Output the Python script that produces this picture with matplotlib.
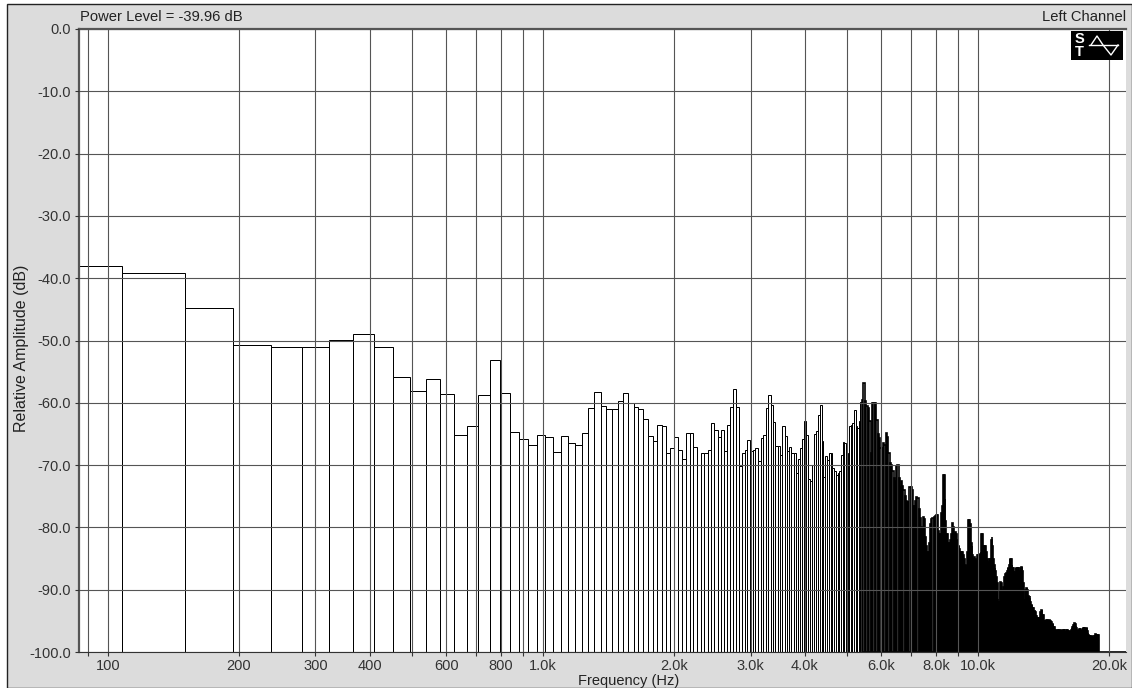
import numpy as np
import matplotlib
matplotlib.use('Agg')
import matplotlib.pyplot as plt
from matplotlib.patches import Rectangle

plt.rcParams['font.family'] = ['Liberation Sans', 'DejaVu Sans']

# fft bins, first one drawn is bin 2 (about 86 Hz)
bin_hz = 43.066
first_bin = 2

amp_low = [-38.0, -39.1, -44.8, -50.8, -51.0, -51.0, -49.9, -49.0, -51.0, -55.9,
           -58.05, -56.2, -58.6, -65.2, -63.7, -58.8, -53.2, -58.4, -64.7, -65.8,
           -66.7, -65.1, -65.5, -67.9, -65.3, -66.5, -66.7, -64.9, -60.8, -58.2,
           -60.5, -61.0, -61.0, -59.7, -58.5, -60.1, -60.6, -61.0, -62.6, -65.3,
           -66.1, -63.6, -63.7, -68.1, -67.3, -65.5, -67.5, -69.1, -64.8, -64.8,
           -67.1]
amp_mid = [-70.0, -68.1, -68.0, -67.5, -63.3, -64.4, -65.5, -64.4, -67.8, -63.6,
           -60.7, -57.8, -60.7, -70.1, -68.1, -67.5, -66.0, -67.8, -67.5, -67.3,
           -69.4, -65.7, -65.2, -60.9, -58.7, -60.4, -63.1, -66.9, -66.9, -68.4,
           -63.7, -65.3, -67.8, -67.1, -68.1, -68.0, -71.3, -69.1, -67.3, -65.8,
           -62.9, -65.2, -72.2, -72.6, -70.0, -65.0, -64.5, -62.0, -60.3, -66.2,
           -71.9, -68.5, -69.2, -68.1, -68.1, -70.5, -71.0, -71.6, -71.3, -71.0,
           -68.4, -66.3, -66.5, -68.5, -68.0, -63.7, -63.5, -63.3, -61.2, -63.8,
           -64.0, -63.0, -59.8, -59.5, -56.9, -59.7, -60.5, -60.8, -63.0, -68.0,
           -60.1, -60.1, -60.1, -62.8, -65.0, -65.7, -67.3, -67.3, -66.5, -66.8,
           -64.9, -65.5, -68.0, -69.7, -70.0, -71.0, -72.0, -72.5, -70.2, -70.0,
           -72.0, -73.5, -72.5, -73.3, -74.0, -75.0, -75.8, -75.9]
amp_high = [-76.0, -73.5, -73.5, -74.0, -76.5, -76.5, -75.8, -75.2, -75.3, -77.0,
            -78.5, -80.0, -80.2, -78.4, -78.6, -81.5, -83.0, -84.0, -84.0, -82.5,
            -79.5, -78.6, -78.5, -78.4, -78.2, -78.0, -78.0, -80.5, -81.0, -81.0,
            -77.7, -76.5, -71.6, -71.6, -75.5, -79.0, -81.0, -81.0, -82.5, -82.5,
            -82.0, -81.0, -79.3, -80.0, -81.0, -80.8, -81.0, -82.0, -83.0, -83.0,
            -83.5, -84.0, -84.0, -84.0, -84.5, -85.0, -86.0, -86.0, -86.5, -84.0,
            -78.8, -78.8, -79.5, -82.5, -83.0, -84.5, -85.0, -84.7, -85.0, -85.5,
            -85.0, -84.5, -84.5, -84.5, -84.3, -84.0, -81.0, -81.0, -83.0, -83.0,
            -83.0, -83.0, -84.0, -85.0, -85.5, -85.5, -85.0, -85.0, -82.0, -81.5,
            -83.0, -85.0, -86.0, -86.5, -87.0, -88.0, -89.0, -91.5, -92.0, -92.0,
            -90.0, -88.8, -88.9, -90.0, -90.0, -89.5, -88.0, -88.0, -87.5, -87.3,
            -87.0, -86.5, -86.5, -86.0, -85.0, -85.0, -85.0, -86.0, -86.5, -86.5,
            -87.0, -87.5, -87.2, -86.5, -86.5, -86.5, -86.3, -86.5, -87.0, -87.0,
            -86.5, -86.3, -86.3, -87.0, -89.0, -91.5, -92.0, -91.5, -90.0, -89.8,
            -89.8, -90.0, -91.0, -91.5, -91.5, -91.0, -92.0, -92.5, -92.5, -93.0,
            -93.0, -93.0, -93.5, -93.3, -93.5, -94.0, -94.3, -94.5, -94.5, -94.5,
            -94.8, -94.5, -93.5, -93.5, -93.3, -93.3, -94.0, -94.0, -94.8, -95.0,
            -95.0, -95.0, -94.8, -94.8, -94.8, -95.0, -95.0, -95.0, -94.9, -95.0]
amp_top = [-95.0, -95.0, -95.2, -95.5, -95.5, -96.0, -96.0, -96.0, -96.3, -96.4,
           -96.5, -96.6, -96.6, -96.5, -96.4, -96.4, -96.5, -96.6, -96.6, -96.5,
           -96.5, -96.6, -96.7, -96.5, -96.4, -96.3, -96.4, -96.6, -96.8, -96.7,
           -96.5, -96.4, -96.4, -96.5, -96.6, -96.7, -96.8, -96.7, -96.6, -96.7,
           -96.5, -96.2, -96.0, -95.8, -95.6, -95.5, -95.4, -95.4, -95.5, -95.8,
           -96.2, -96.5, -96.6, -96.6, -96.5, -96.4, -96.3, -96.2, -96.3, -96.4,
           -96.5, -96.6, -96.5, -96.3, -96.2, -96.1, -96.0, -96.1, -96.2, -96.3,
           -96.2, -96.1, -96.2, -96.4, -96.7, -97.0, -97.2, -97.3, -97.4, -97.3,
           -97.4, -97.5, -97.6, -97.7, -97.6, -97.5, -97.6, -97.7, -97.6, -97.5,
           -97.3, -97.2, -97.1, -97.1, -97.2, -97.3, -97.2, -97.3, -97.2]
amp_floor = [-100.0] * 72

freq_major = [100, 200, 300, 400, 600, 800, 1000, 2000, 3000, 4000, 6000, 8000, 10000, 20000]
freq_labels = ['100', '200', '300', '400', '600', '800', '1.0k', '2.0k', '3.0k', '4.0k',
               '6.0k', '8.0k', '10.0k', '20.0k']
freq_minor = [90, 500, 700, 900, 5000, 7000, 9000]
db_ticks = [0, -10, -20, -30, -40, -50, -60, -70, -80, -90, -100]
db_labels = ['0.0', '-10.0', '-20.0', '-30.0', '-40.0', '-50.0', '-60.0', '-70.0', '-80.0',
             '-90.0', '-100.0']

amps = np.array(amp_low + amp_mid + amp_high + amp_top + amp_floor)
left_edges = (np.arange(len(amps)) + first_bin - 0.5) * bin_hz

# above about 5.4 kHz the bins merge into solid black, so those edges are a bit wider
edge_widths = np.where(left_edges > 5400, 1.2, 0.72)

W, H = 1132, 688
fig = plt.figure(figsize=(W / 100, H / 100), dpi=100, facecolor='white')
fig.add_artist(Rectangle((7 / W, 0.5 / H), (W - 7) / W, (H - 4.5) / H, transform=fig.transFigure,
                         facecolor='#dcdcdc', edgecolor='#222222', linewidth=1.0, zorder=-1))

ax = fig.add_axes([79 / W, 1 - 652 / H, (1126 - 79) / W, (652 - 29) / H])
ax.set_xscale('log')
ax.set_xlim(85.8, 21890)
ax.set_ylim(-100, 0)

ax.bar(left_edges, amps + 100, width=bin_hz, bottom=-100, align='edge', facecolor='white',
       edgecolor='black', linewidth=edge_widths, zorder=2)

# grid goes over the bars
ax.set_xticks(freq_major)
ax.set_xticklabels(freq_labels)
ax.set_xticks(freq_minor, minor=True)
ax.set_xticklabels([], minor=True)
ax.set_yticks(db_ticks)
ax.set_yticklabels(db_labels)
ax.set_axisbelow(False)
ax.grid(True, which='both', color='#555555', linewidth=0.8, zorder=3)
ax.tick_params(axis='both', which='both', colors='#333333', labelsize=10.5, length=3, width=0.8)
ax.tick_params(axis='y', pad=3)
ax.tick_params(axis='x', pad=2)

for side in ['top', 'left']:
    ax.spines[side].set_linewidth(1.6)
    ax.spines[side].set_color('#555555')
ax.spines['bottom'].set_color('#333333')
ax.spines['right'].set_visible(False)

fig.text(80 / W, 1 - 21 / H, 'Power Level = -39.96 dB', fontsize=10.6, color='#222222')
fig.text(1126 / W, 1 - 21 / H, 'Left Channel', fontsize=10.6, color='#222222', ha='right')
fig.text(629 / W, 1 - 685 / H, 'Frequency (Hz)', fontsize=10.5, color='#222222', ha='center')
fig.text(22 / W, 1 - 348 / H, 'Relative Amplitude (dB)', fontsize=11.5, color='#222222',
         rotation=90, va='center', ha='center')

# S/T sine logo
logo = fig.add_axes([1071 / W, 1 - 60 / H, 52 / W, 29 / H], facecolor='black', zorder=5)
logo.set_xlim(0, 52)
logo.set_ylim(0, 29)
logo.set_xticks([])
logo.set_yticks([])
for s in logo.spines.values():
    s.set_visible(False)
logo.text(8, 21, 'S', color='white', fontsize=10.5, fontweight='bold', ha='center', va='center')
logo.text(8, 8, 'T', color='white', fontsize=10.5, fontweight='bold', ha='center', va='center')
logo.plot([20, 26, 32, 40, 47], [15, 24, 15, 5, 15], color='white', linewidth=1.0)
logo.plot([18, 32, 47], [15, 15, 15], color='white', linewidth=1.0)

fig.savefig('out.png', dpi=100)
